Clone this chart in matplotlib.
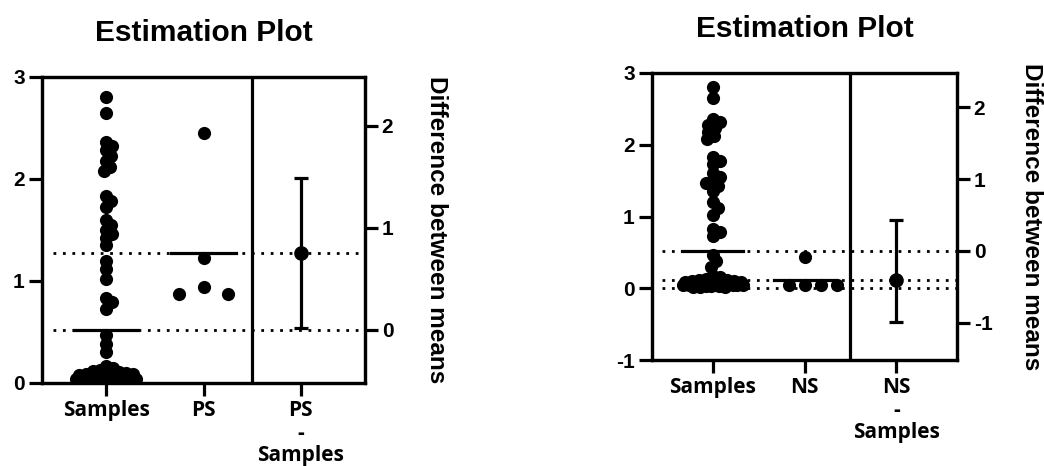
import matplotlib
matplotlib.use("Agg")
import matplotlib.pyplot as plt

plt.rcParams["axes.unicode_minus"] = False

# --- data ---
samples = [2.80, 2.65, 2.36, 2.32, 2.28, 2.23, 2.18, 2.12, 2.08,
           1.83, 1.78, 1.73, 1.60, 1.55, 1.50, 1.46, 1.42, 1.35,
           1.20, 1.12, 1.02, 0.83, 0.79, 0.73, 0.47, 0.38, 0.30,
           0.17, 0.15, 0.13, 0.12, 0.11, 0.10, 0.10, 0.09, 0.09, 0.08,
           0.08, 0.07, 0.07, 0.06, 0.06, 0.06, 0.05, 0.05, 0.05, 0.04,
           0.04, 0.04, 0.03, 0.03, 0.03, 0.02, 0.02, 0.02]
samples_mean = 0.52

ps = [2.45, 1.23, 0.94, 0.876, 0.876]
ps_mean = 1.27
ps_diff = 0.75
ps_ci = (0.02, 1.49)

ns = [0.43, 0.05, 0.04, 0.05, 0.04]
ns_mean = 0.12
ns_diff = -0.40
ns_ci = (-0.99, 0.43)

left_labels = ["Samples", "PS", "PS\n-\nSamples"]
right_labels = ["Samples", "NS", "NS\n-\nSamples"]

TITLE = "Estimation Plot"
DIFF_LABEL = "Difference between means"

W, H = 1044, 466
fig = plt.figure(figsize=(W / 100, H / 100), dpi=100)

LW = 2.3
MS = 90


def swarm_x(ax, values, center, d_px, max_px=40):
    # simple beeswarm: nearest free spot to the center, squeezed inside max_px
    tr = ax.transData
    px_per_x = tr.transform((1, 0))[0] - tr.transform((0, 0))[0]
    placed = []
    xs = []
    cands = [0]
    for i in range(1, max_px + 1):
        cands += [i, -i]
    for v in values:
        y = tr.transform((center, v))[1]
        best, best_d = 0, -1
        for c in cands:
            dmin = min([((c - px) ** 2 + (y - py) ** 2) ** 0.5 for px, py in placed] + [1e9])
            if dmin >= d_px:
                best = c
                break
            if dmin > best_d + 0.5:
                best, best_d = c, dmin
        placed.append((best, y))
        xs.append(center + best / px_per_x)
    return xs


def estimation_plot(rect, group, group_mean, diff, ci, labels, ylim, yticks,
                    d_group, dotted, title_pad, label_x):
    ax = fig.add_axes(rect)
    ax.set_xlim(-0.66, 2.66)
    ax.set_ylim(*ylim)
    ax.set_yticks(yticks)
    ax.set_xticks([0, 1, 2])
    ax.set_xticklabels(labels, fontfamily="Open Sans", fontweight="bold",
                       fontsize=15, linespacing=1.08)
    for lab in ax.get_yticklabels():
        lab.set_fontweight("bold")
        lab.set_fontsize(15)
        lab.set_fontfamily("Liberation Sans")
    for sp in ax.spines.values():
        sp.set_linewidth(LW)
    ax.tick_params(width=LW, length=9.5, pad=3)
    ax.axvline(1.5, color="black", lw=LW)

    # dotted reference lines
    for yv in dotted:
        ax.plot([-0.55, 2.66], [yv, yv], color="black", lw=2.0,
                linestyle=(0, (1, 2.4)), zorder=1)

    # data
    xs = swarm_x(ax, samples, 0, 7, 30)
    ax.scatter(xs, samples, s=MS, color="black", zorder=3, linewidths=0)
    xg = swarm_x(ax, group, 1, d_group)
    ax.scatter(xg, group, s=MS, color="black", zorder=3, linewidths=0)

    # mean lines
    ax.plot([-0.33, 0.33], [samples_mean, samples_mean], color="black", lw=LW, zorder=4)
    ax.plot([0.67, 1.33], [group_mean, group_mean], color="black", lw=LW, zorder=4)

    ax.set_title(TITLE, fontfamily="Liberation Sans", fontweight="bold",
                 fontsize=21.5, pad=title_pad)

    # difference axis
    ax2 = ax.twinx()
    ax2.set_ylim(ylim[0] - samples_mean, ylim[1] - samples_mean)
    t0 = int(round(ylim[0] - samples_mean + 0.49))
    ax2.set_yticks(range(t0, 3))
    for lab in ax2.get_yticklabels():
        lab.set_fontweight("bold")
        lab.set_fontsize(15)
        lab.set_fontfamily("Liberation Sans")
    for sp in ax2.spines.values():
        sp.set_linewidth(LW)
    ax2.tick_params(width=LW, length=9, pad=3)
    ax2.errorbar([2], [diff], yerr=[[diff - ci[0]], [ci[1] - diff]], fmt="o",
                 color="black", ms=9.5, elinewidth=LW, capsize=5, capthick=LW,
                 zorder=5)
    ax2.set_ylabel(DIFF_LABEL, rotation=270, fontfamily="Liberation Sans",
                   fontweight="bold", fontsize=17.5, ha="center", va="center",
                   rotation_mode="anchor")
    ax2.yaxis.set_label_coords(label_x, 0.5)
    return ax, ax2


estimation_plot([42 / W, 1 - 383 / H, 323 / W, 306 / H], ps, ps_mean, ps_diff, ps_ci,
                left_labels, (0, 3), [0, 1, 2, 3], 25,
                [samples_mean, ps_mean], 26, 1.22)
estimation_plot([652 / W, 1 - 360 / H, 305 / W, 287 / H], ns, ns_mean, ns_diff, ns_ci,
                right_labels, (-1, 3), [-1, 0, 1, 2, 3], 16,
                [samples_mean, ns_mean, 0], 26, 1.245)

fig.savefig("out.png", dpi=100)
